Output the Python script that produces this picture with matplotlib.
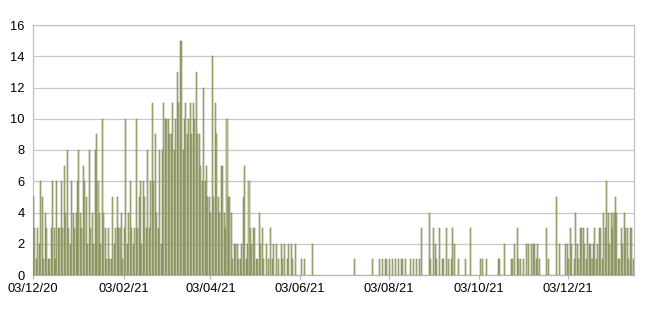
import matplotlib
matplotlib.use("Agg")
import matplotlib.pyplot as plt
import pandas as pd

# Daily values (start 03/12/2020)
dec20 = [5,3,1,3,2,6,5,1,4,3,1,1,3,6,3,1,6,3,3,6,3,7,4,8,3,2,6,4,3]
jan21 = [4,6,8,4,3,7,6,5,2,8,3,4,2,8,9,6,4,2,10,4,3,1,3,1,1,5,2,3,5,3,3]
feb21 = [4,1,3,10,2,4,6,3,2,3,10,3,5,6,2,6,5,3,8,3,6,11,6,9,4,3,8,2]
mar21 = [8,11,10,10,10,9,9,11,8,10,13,11,15,15,8,10,11,9,10,11,9,11,10,13,9,9,7,6,12,6,7]
apr21 = [5,5,4,14,5,11,9,5,4,7,7,4,3,10,5,5,4,1,2,2,2,1,1,2,5,7,1,2,6,3]
may21 = [2,3,3,1,1,4,2,3,1,0,2,1,0,3,1,2,0,2,1,0,2,1,2,0,1,2,0,2,1,0,2]
jun21 = [0,0,0,1,0,1,0,0,0,0,2,0,0,0,0,0,0,0,0,0,0,0,0,0,0,0,0,0,0,0]
jul21 = [0,0,0,0,0,0,0,0,0,1,0,0,0,0,0,0,0,0,0,0,0,1,0,0,0,0,1,0,1,0,1]
aug21 = [1,0,1,0,1,0,1,0,1,0,1,1,0,1,0,0,1,0,1,0,1,0,1,0,3,0,0,0,0,4,1]
sep21 = [0,3,2,1,0,3,0,1,1,0,3,1,0,1,3,2,0,0,1,0,0,0,0,1,0,0,3,0,0,0]
oct21 = [0,0,0,1,1,0,0,1,0,0,0,0,0,0,0,1,1,0,0,2,0,0,0,0,1,1,2,0,3,1,1]
nov21 = [0,1,0,2,0,2,0,2,2,2,1,2,1,0,0,0,0,3,1,0,0,0,0,0,5,0,2,0,0,0]
dec21 = [2,2,1,3,2,0,1,4,2,1,3,3,3,2,1,3,2,2,1,2,3,1,2,3,3,1,4,3,6,4,2]
jan22 = [4,3,4,5,4,1,1,3,2,4,3,3,1,3,3,1]

values = dec20 + jan21 + feb21 + mar21 + apr21 + may21 + jun21 + jul21 + aug21 + sep21 + oct21 + nov21 + dec21 + jan22
dates = pd.date_range("2020-12-03", periods=len(values), freq="D")

tick_dates = pd.to_datetime(["2020-12-03", "2021-02-03", "2021-04-03", "2021-06-03",
                             "2021-08-03", "2021-10-03", "2021-12-03"])
tick_labels = ["03/12/20", "03/02/21", "03/04/21", "03/06/21", "03/08/21", "03/10/21", "03/12/21"]

plt.rcParams['font.family'] = ['Liberation Sans', 'DejaVu Sans']
fig = plt.figure(figsize=(6.5, 3.1), dpi=100)
ax = fig.add_axes([33/650, 35/310, (634-33)/650, 250/310])

lws = [0.35 if v > 0 else 0 for v in values]
ax.bar(dates, values, width=0.7, align='edge', color='#c5cb9c', edgecolor='#6a733d',
       linewidth=lws, zorder=3)

ax.set_ylim(0, 16)
ax.set_yticks(range(0, 17, 2))
ax.set_xlim(pd.Timestamp("2020-12-03"), pd.Timestamp("2022-01-17"))
ax.set_xticks(tick_dates)
ax.set_xticklabels(tick_labels)
ax.grid(axis='y', color='#c8c8c8', linewidth=0.9, zorder=0)
for s in ax.spines.values():
    s.set_color('#c0c0c0')
    s.set_linewidth(0.9)
ax.spines['bottom'].set_color('#b3b3b3')
ax.tick_params(axis='y', length=0, labelsize=9.3, pad=6, colors='black')
ax.tick_params(axis='x', length=3, color='#b3b3b3', labelsize=9.3, pad=3, colors='black')
ax.tick_params(axis='x', colors='#b3b3b3', labelcolor='black')

fig.savefig("out.png", dpi=100, facecolor='white')
